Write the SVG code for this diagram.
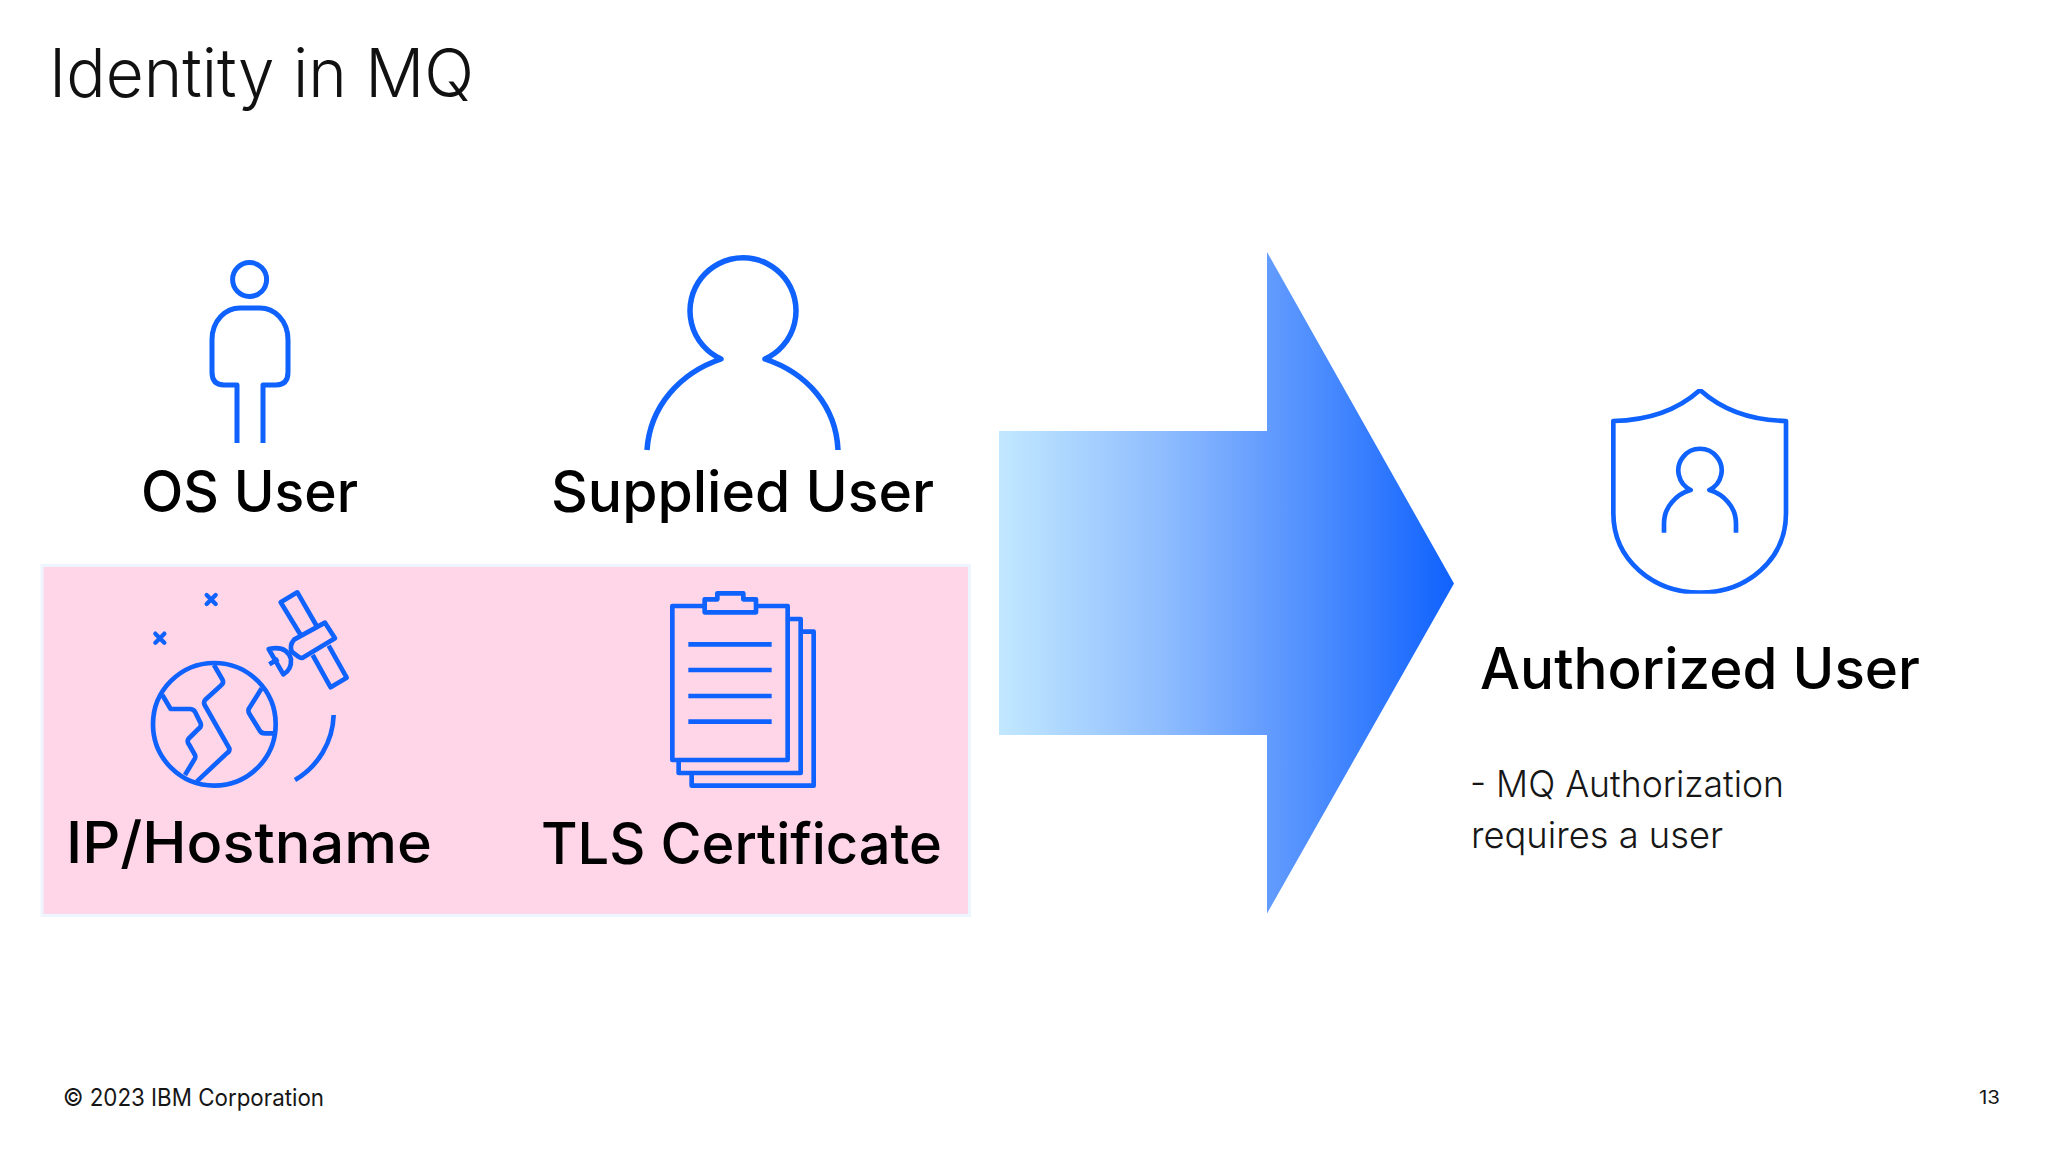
<svg xmlns="http://www.w3.org/2000/svg" width="2048" height="1152" viewBox="0 0 2048 1152">
<defs>
<linearGradient id="arrowGrad" gradientUnits="userSpaceOnUse" x1="999" y1="0" x2="1454" y2="0">
<stop offset="0" stop-color="#C2E8FF"/>
<stop offset=".35" stop-color="#90BEFE"/>
<stop offset=".59" stop-color="#639CFE"/>
<stop offset="1" stop-color="#0F62FE"/>
</linearGradient>
<clipPath id="shieldClip"><rect x="490" y="57" width="580" height="614"/></clipPath>
</defs>
<style>
text{font-family:"Inter","Noto Sans","Liberation Sans",sans-serif;fill:#000}
.lbl{font-size:57px;font-weight:500}
.body{font-size:37px;font-weight:300;fill:#161616}
.ic{fill:none;stroke:#0F62FE;stroke-linejoin:round}
</style>
<rect width="2048" height="1152" fill="#fff"/>
<text id="title" x="49" y="97" style="font-size:67px;font-weight:300;fill:#111" textLength="425" lengthAdjust="spacingAndGlyphs">Identity in MQ</text>
<rect id="highlight" x="42" y="565.500" width="927.500" height="350" fill="#FFD6E8" stroke="#EDF5FF" stroke-width="3"/>
<g id="os-user">
<circle class="ic" stroke-width="5" cx="249.600" cy="279.500" r="17"/>
<path class="ic" stroke-width="5" d="M237 443V385H224Q212 385 212 372V340C212 320 226 308 240 308H260C274 308 288 320 288 340V372Q288 385 276 385H263V443"/>
<text class="lbl" x="141" y="512" textLength="217" lengthAdjust="spacingAndGlyphs">OS User</text>
</g>
<g id="supplied-user">
<path class="ic" stroke-width="5.500" d="M647 450C650 406 680 373 721 359A53 53 0 1 1 765 359C807 373 836 406 838 450"/>
<text class="lbl" x="551" y="512" textLength="383" lengthAdjust="spacingAndGlyphs">Supplied User</text>
</g>
<g id="ip-hostname">
<g transform="translate(30 555) scale(.33333)">
<circle class="ic" stroke-width="14" cx="553" cy="508" r="184"/>
<path class="ic" stroke-width="14" d="M397 420L422 462H480Q490 462 495 470L512 505Q515 515 505 522L475 552Q470 560 478 570L495 600Q498 608 492 615L465 660"/>
<path class="ic" stroke-width="14" d="M552 330L578 375Q582 385 572 392L525 435Q520 442 524 450L598 580Q600 590 590 595L500 680"/>
<path class="ic" stroke-width="14" d="M695 400L656 462Q654 470 658 476L690 528Q694 535 705 535H738"/>
<path class="ic" stroke-width="14" d="M911 480A235 235 0 0 1 795 675"/>
<path class="ic" stroke-width="13" stroke-linecap="round" d="M530 120L557 147M557 120L530 147M376 236L403 263M403 236L376 263"/>
<path class="ic" stroke-width="14" d="M860 213L802 112L752 142L812 240M848 300L902 397L950 368L896 272"/>
<path class="ic" stroke-width="14" d="M885 203L915 250L818 308Q812 310 805 305L785 290Q778 270 792 254Z"/>
<path class="ic" stroke-width="14" d="M716 282L760 358Q785 345 783 312Q770 270 716 282ZM718 328L745 312"/>
</g>
<text class="lbl" x="66" y="863" textLength="366" lengthAdjust="spacingAndGlyphs">IP/Hostname</text>
</g>
<g id="tls-certificate">
<g transform="translate(510 555) scale(.33333)">
<path class="ic" stroke-width="14" d="M584 153H487V615H833V153H738M584 172H738V133H700V115H622V133H584ZM833 192H872V654H506V615M872 230H911V692H545V654"/>
<path class="ic" stroke-width="14" d="M535 268H785M535 345H785M535 423H785M535 500H785"/>
</g>
<text class="lbl" x="541" y="864" textLength="401" lengthAdjust="spacingAndGlyphs">TLS Certificate</text>
</g>
<g id="connectors">
<path id="big-arrow" d="M999 431H1267V252L1454 583.500L1267 913.500V735H999Z" fill="url(#arrowGrad)"/>
</g>
<g id="authorized-user">
<g transform="translate(1440 370) scale(.33333)">
<g clip-path="url(#shieldClip)">
<path class="ic" stroke-width="14" d="M780 60Q680 150 520 153V430C520 570 640 668 780 668C920 668 1038 570 1038 430V153Q880 150 780 60Z"/>
</g>
<path class="ic" stroke-width="14" d="M672 488V460C672 410 710 372 752 360A65 65 0 1 1 808 360C850 372 888 410 888 460V488"/>
</g>
<text class="lbl" x="1480" y="689" textLength="440" lengthAdjust="spacingAndGlyphs">Authorized User</text>
<text class="body" x="1470" y="797" textLength="314" lengthAdjust="spacingAndGlyphs">- MQ Authorization</text>
<text class="body" x="1471" y="848" textLength="252" lengthAdjust="spacingAndGlyphs">requires a user</text>
</g>
<text id="copyright" x="63" y="1106" style="font-size:24px;fill:#161616" textLength="261" lengthAdjust="spacingAndGlyphs">© 2023 IBM Corporation</text>
<text id="page" x="1979" y="1104" style="font-size:18px;fill:#161616" textLength="21" lengthAdjust="spacingAndGlyphs">13</text>
</svg>
